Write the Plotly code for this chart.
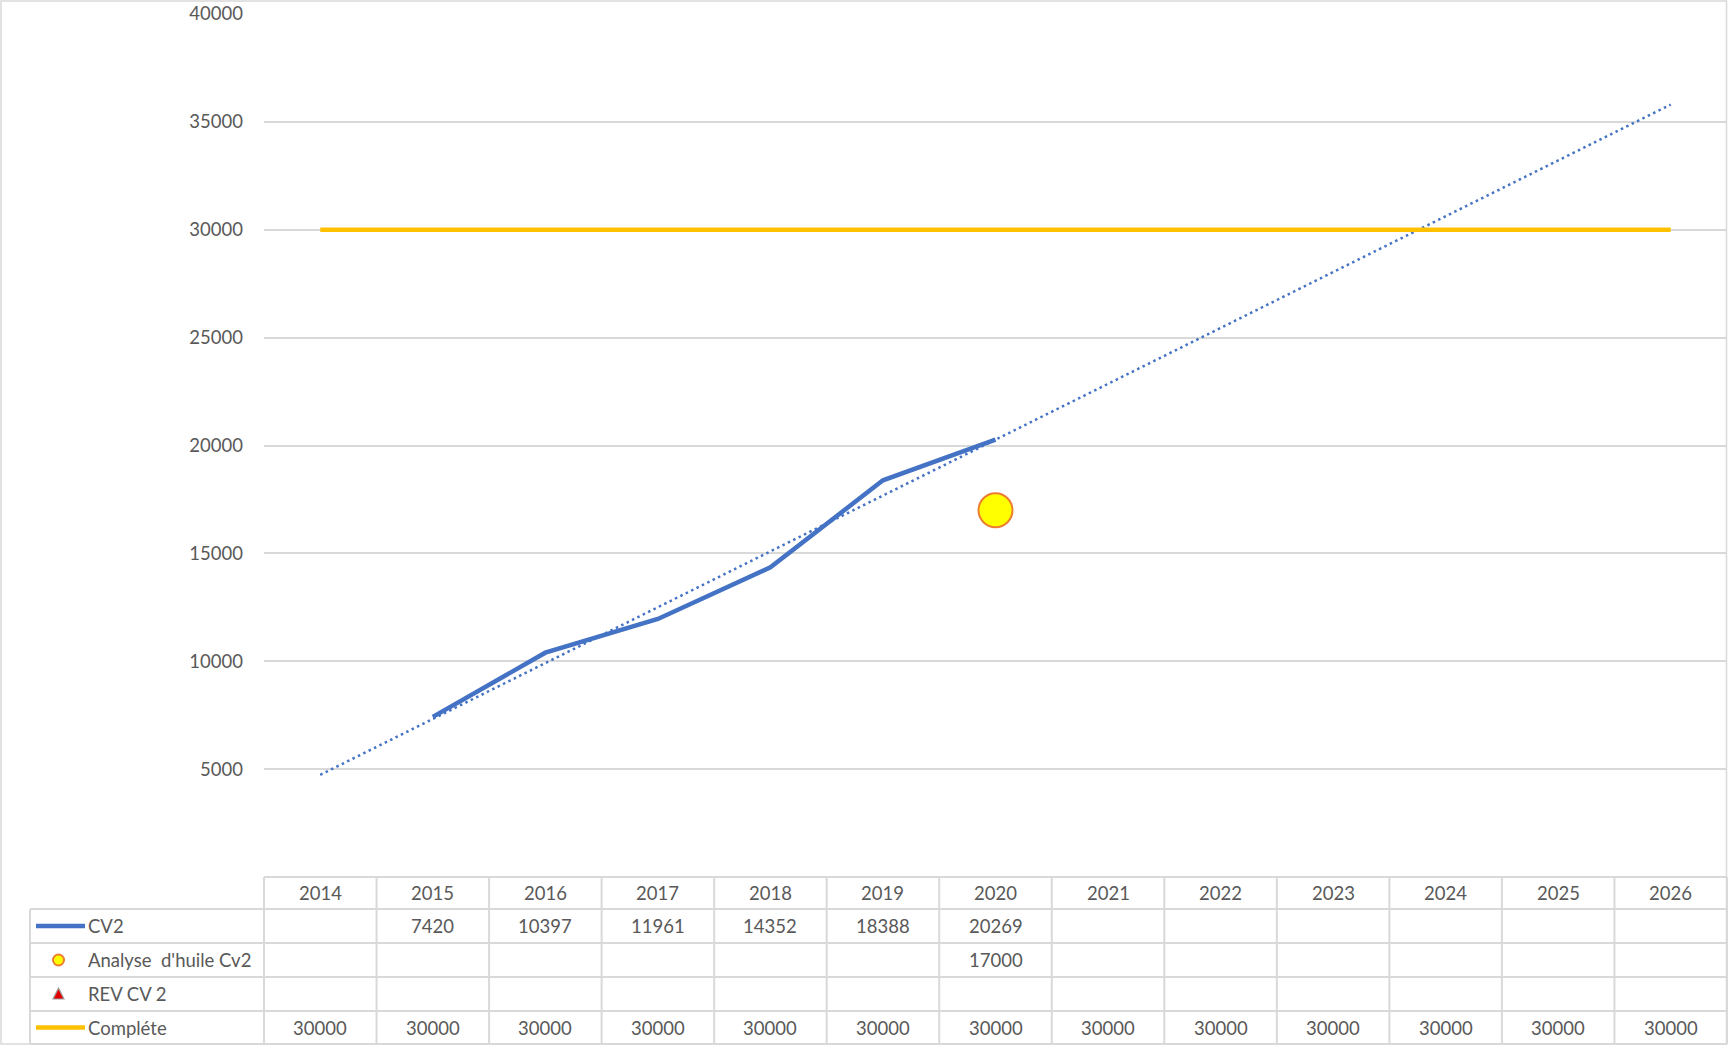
import numpy as np
import plotly.graph_objects as go

# ---------------- data ----------------
years = ["2014", "2015", "2016", "2017", "2018", "2019", "2020",
         "2021", "2022", "2023", "2024", "2025", "2026"]
cv2 = [None, 7420, 10397, 11961, 14352, 18388, 20269,
       None, None, None, None, None, None]
analyse_huile = [None, None, None, None, None, None, 17000,
                 None, None, None, None, None, None]
rev_cv2 = [None] * 13
complete = [30000] * 13
y_ticks = [5000, 10000, 15000, 20000, 25000, 30000, 35000, 40000]
series_names = ["CV2", "Analyse  d'huile Cv2", "REV CV 2", "Compléte"]

# ---------------- styles ----------------
BLUE = "#4472C4"
GOLD = "#FFC000"
YELLOW = "#FFFF00"
ORANGE = "#ED7D31"
GRID = "#D9D9D9"
TXT = "#595959"
FONT = "Lato"
FS = 18.5

W, H = 1728, 1045
ML, MR, MT, MB = 264, 1, 14, 168
PW = W - ML - MR
PH = H - MT - MB

idx = np.arange(len(years))

# linear trendline on CV2 (Excel linear trend, forecast backward/forward)
known = [(i, v) for i, v in zip(idx, cv2) if v is not None]
kx = np.array([k[0] for k in known], dtype=float)
ky = np.array([k[1] for k in known], dtype=float)
slope, intercept = np.polyfit(kx, ky, 1)
trend = slope * idx + intercept

fig = go.Figure()

fig.add_trace(go.Scatter(x=years, y=trend, mode="lines",
                         line=dict(color=BLUE, width=2.5, dash="2.5px,3.5px"),
                         showlegend=False, hoverinfo="skip"))
fig.add_trace(go.Scatter(x=years, y=complete, mode="lines", name=series_names[3],
                         line=dict(color=GOLD, width=4.5), showlegend=False))
fig.add_trace(go.Scatter(x=years, y=cv2, mode="lines", name=series_names[0],
                         line=dict(color=BLUE, width=4.5), showlegend=False,
                         connectgaps=False))
fig.add_trace(go.Scatter(x=years, y=analyse_huile, mode="markers", name=series_names[1],
                         marker=dict(color=YELLOW, size=34, line=dict(color=ORANGE, width=2)),
                         showlegend=False))
fig.add_trace(go.Scatter(x=years, y=rev_cv2, mode="markers", name=series_names[2],
                         marker=dict(color="red", symbol="triangle-up", size=10),
                         showlegend=False))


def px2x(px):
    return (px - ML) / PW


def py2y(py):
    return (H - MB - py) / PH


shapes = []
annotations = []
line_style = dict(color=GRID, width=2)

row_edges = [877, 909, 943, 977, 1011, 1044]
left_px = 30
n = len(years)

# horizontal table lines
shapes.append(dict(type="line", xref="paper", yref="paper",
                   x0=0, x1=1, y0=py2y(row_edges[0]), y1=py2y(row_edges[0]), line=line_style))
for r in row_edges[1:]:
    shapes.append(dict(type="line", xref="paper", yref="paper",
                       x0=px2x(left_px), x1=1, y0=py2y(r), y1=py2y(r), line=line_style))
# vertical table lines
for i in range(n + 1):
    xv = i / n
    shapes.append(dict(type="line", xref="paper", yref="paper",
                       x0=xv, x1=xv, y0=py2y(row_edges[0]), y1=py2y(row_edges[-1]), line=line_style))
shapes.append(dict(type="line", xref="paper", yref="paper",
                   x0=px2x(left_px), x1=px2x(left_px),
                   y0=py2y(row_edges[1]), y1=py2y(row_edges[-1]), line=line_style))

# outer chart border
shapes.append(dict(type="rect", xref="paper", yref="paper",
                   x0=px2x(1), x1=px2x(W - 1.5), y0=py2y(H - 1), y1=py2y(1),
                   line=dict(color=GRID, width=1.5), layer="below"))

row_centers = [(row_edges[k] + row_edges[k + 1]) / 2 for k in range(len(row_edges) - 1)]

# header years
for i, yr in enumerate(years):
    annotations.append(dict(x=(i + 0.5) / n, y=py2y(row_centers[0]), xref="paper", yref="paper",
                            text=yr, showarrow=False, xanchor="center", yanchor="middle",
                            font=dict(family=FONT, size=FS, color=TXT)))

# data rows
rows = [cv2, analyse_huile, rev_cv2, complete]
for k, (nm, vals) in enumerate(zip(series_names, rows)):
    yc = py2y(row_centers[k + 1])
    annotations.append(dict(x=px2x(86), y=yc, xref="paper", yref="paper",
                            text=nm, showarrow=False, xanchor="left", yanchor="middle",
                            font=dict(family=FONT, size=FS, color=TXT)))
    for i, v in enumerate(vals):
        if v is None:
            continue
        annotations.append(dict(x=(i + 0.5) / n, y=yc, xref="paper", yref="paper",
                                text=str(v), showarrow=False, xanchor="center", yanchor="middle",
                                font=dict(family=FONT, size=FS, color=TXT)))

# legend keys
yc = py2y(row_centers[1])
shapes.append(dict(type="line", xref="paper", yref="paper", x0=px2x(36), x1=px2x(85),
                   y0=yc, y1=yc, line=dict(color=BLUE, width=4.5)))
yc = py2y(row_centers[4])
shapes.append(dict(type="line", xref="paper", yref="paper", x0=px2x(36), x1=px2x(85),
                   y0=yc, y1=yc, line=dict(color=GOLD, width=4.5)))
yc_px = row_centers[2]
shapes.append(dict(type="circle", xref="paper", yref="paper",
                   x0=px2x(53), x1=px2x(64), y0=py2y(yc_px + 5.5), y1=py2y(yc_px - 5.5),
                   fillcolor=YELLOW, line=dict(color=ORANGE, width=2)))
yc_px = row_centers[3]
tri = "M {} {} L {} {} L {} {} Z".format(px2x(53), py2y(yc_px + 5), px2x(64), py2y(yc_px + 5),
                                        px2x(58.5), py2y(yc_px - 6))
shapes.append(dict(type="path", xref="paper", yref="paper", path=tri,
                   fillcolor="#E00000", line=dict(color="#A0A0A0", width=1.2)))

fig.update_layout(
    width=W, height=H,
    margin=dict(l=ML, r=MR, t=MT, b=MB, pad=0),
    paper_bgcolor="white", plot_bgcolor="white",
    showlegend=False,
    shapes=shapes, annotations=annotations,
    xaxis=dict(type="category", range=[-0.5, n - 0.5], showticklabels=False,
               showgrid=False, zeroline=False, showline=False, ticks=""),
    yaxis=dict(range=[0, 40000], tickvals=y_ticks, ticktext=[str(t) for t in y_ticks],
               showgrid=True, gridcolor=GRID, gridwidth=2, zeroline=False,
               showline=False, ticks="", ticklabelstandoff=20,
               tickfont=dict(family=FONT, size=FS, color=TXT)),
)

fig.write_html("out.html", config={"displayModeBar": False},
               post_script="document.body.style.margin='0';document.body.style.overflow='hidden';")
